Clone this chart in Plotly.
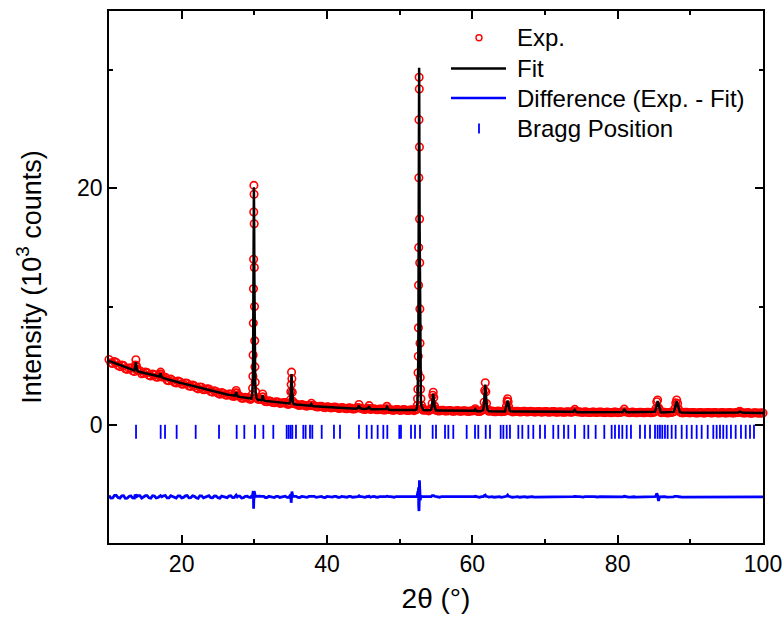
import plotly.graph_objects as go

# ---------------- data ----------------
# Background regions: 2theta (deg), experimental and fitted intensity (10^3 counts)
BG_2THETA = [10.0, 10.5, 11.0, 11.5, 12.0, 12.5, 13.0, 13.5, 14.0, 14.5, 15.0, 15.5, 16.0, 16.5,
             17.5, 18.0, 18.5, 19.0, 19.5, 20.0, 20.5, 21.0, 21.5, 22.0, 22.5, 23.0, 23.5, 24.0,
             24.5, 25.0, 25.5, 26.0, 26.5, 27.0, 28.0, 28.5, 29.0, 29.5, 30.5, 31.5, 32.0, 32.5,
             33.0, 33.5, 34.0, 34.5, 35.5, 36.0, 36.5, 37.0, 37.5, 38.5, 39.0, 39.5, 40.0, 40.5,
             41.0, 41.5, 42.0, 42.5, 43.0, 43.5, 44.0, 45.0, 45.5, 46.0, 46.5, 47.0, 47.5, 48.0,
             48.5, 49.0, 49.5, 50.0, 50.5, 51.0, 51.5, 52.0, 53.5, 54.0, 55.0, 55.5, 56.0, 56.5,
             57.0, 57.5, 58.0, 58.5, 59.0, 59.5, 60.0, 61.0, 62.5, 63.0, 63.5, 64.0, 64.5, 65.5,
             66.0, 66.5, 67.0, 67.5, 68.0, 68.5, 69.0, 69.5, 70.0, 70.5, 71.0, 71.5, 72.0, 72.5,
             73.0, 73.5, 74.5, 75.0, 75.5, 76.0, 76.5, 77.0, 77.5, 78.0, 78.5, 79.0, 79.5, 80.0,
             80.5, 81.5, 82.0, 82.5, 83.0, 83.5, 84.0, 84.5, 85.0, 86.0, 86.5, 87.0, 87.5, 89.0,
             89.5, 90.0, 90.5, 91.0, 91.5, 92.0, 92.5, 93.0, 93.5, 94.0, 94.5, 95.0, 95.5, 96.0,
             96.5, 97.5, 98.0, 98.5, 99.0, 99.5, 100.0]
BG_FIT = [5.40, 5.28, 5.15, 5.02, 4.90, 4.80, 4.70, 4.60, 4.50, 4.42, 4.35, 4.27, 4.20, 4.12,
          3.95, 3.85, 3.77, 3.68, 3.60, 3.52, 3.44, 3.36, 3.28, 3.20, 3.12, 3.05, 2.96, 2.88,
          2.80, 2.73, 2.66, 2.60, 2.53, 2.47, 2.36, 2.30, 2.25, 2.20, 2.10, 2.02, 1.98, 1.94,
          1.90, 1.86, 1.83, 1.79, 1.73, 1.70, 1.67, 1.64, 1.61, 1.56, 1.53, 1.51, 1.49, 1.47,
          1.45, 1.43, 1.42, 1.40, 1.39, 1.37, 1.36, 1.34, 1.33, 1.32, 1.31, 1.30, 1.29, 1.28,
          1.27, 1.26, 1.26, 1.25, 1.25, 1.24, 1.24, 1.23, 1.22, 1.21, 1.20, 1.20, 1.19, 1.19,
          1.18, 1.18, 1.17, 1.17, 1.16, 1.16, 1.15, 1.15, 1.14, 1.14, 1.13, 1.13, 1.13, 1.12,
          1.12, 1.12, 1.11, 1.11, 1.11, 1.10, 1.10, 1.10, 1.10, 1.09, 1.09, 1.09, 1.08, 1.08,
          1.08, 1.08, 1.07, 1.07, 1.07, 1.06, 1.06, 1.06, 1.06, 1.06, 1.05, 1.05, 1.05, 1.05,
          1.05, 1.05, 1.05, 1.04, 1.04, 1.04, 1.04, 1.04, 1.04, 1.04, 1.03, 1.03, 1.03, 1.03,
          1.03, 1.03, 1.02, 1.02, 1.02, 1.02, 1.02, 1.02, 1.02, 1.02, 1.02, 1.02, 1.01, 1.01,
          1.01, 1.01, 1.01, 1.00, 1.00, 1.00, 1.00]
BG_EXP = [5.52, 5.19, 5.27, 4.92, 5.00, 4.69, 4.79, 4.51, 4.61, 4.32, 4.45, 4.19, 4.30, 4.03,
          4.04, 3.76, 3.87, 3.59, 3.69, 3.44, 3.53, 3.28, 3.37, 3.12, 3.20, 2.97, 3.04, 2.81,
          2.88, 2.66, 2.73, 2.53, 2.60, 2.41, 2.42, 2.24, 2.31, 2.15, 2.16, 1.97, 2.03, 1.89,
          1.95, 1.81, 1.88, 1.75, 1.78, 1.66, 1.71, 1.60, 1.65, 1.52, 1.57, 1.47, 1.53, 1.43,
          1.49, 1.40, 1.46, 1.37, 1.43, 1.34, 1.40, 1.31, 1.37, 1.29, 1.35, 1.27, 1.32, 1.25,
          1.30, 1.23, 1.29, 1.22, 1.28, 1.21, 1.27, 1.20, 1.25, 1.18, 1.23, 1.17, 1.22, 1.16,
          1.21, 1.15, 1.20, 1.14, 1.19, 1.13, 1.18, 1.12, 1.17, 1.11, 1.16, 1.10, 1.15, 1.09,
          1.14, 1.09, 1.13, 1.08, 1.13, 1.08, 1.12, 1.07, 1.12, 1.06, 1.11, 1.07, 1.10, 1.06,
          1.10, 1.06, 1.09, 1.05, 1.09, 1.04, 1.08, 1.04, 1.08, 1.04, 1.07, 1.03, 1.07, 1.03,
          1.07, 1.03, 1.07, 1.02, 1.06, 1.02, 1.06, 1.02, 1.06, 1.02, 1.05, 1.01, 1.05, 1.01,
          1.05, 1.01, 1.04, 1.00, 1.04, 1.00, 1.04, 1.00, 1.04, 1.00, 1.04, 1.00, 1.03, 0.99,
          1.03, 0.99, 1.03, 0.98, 1.02, 0.98, 1.00]

# Intermediate background readings (between the grid above)
MID_2THETA = [10.25, 10.75, 11.25, 11.75, 12.25, 12.75, 13.25, 14.25, 14.75, 15.25, 15.75, 16.25,
              16.75, 17.75, 18.25, 18.75, 19.25, 19.75, 20.25, 20.75, 21.25, 21.75, 22.25, 22.75,
              23.25, 23.75, 24.25, 24.75, 25.25, 25.75, 26.25, 26.75, 27.25, 27.75, 28.25, 28.75,
              29.25, 30.75, 31.75, 32.25, 32.75, 33.25, 33.75, 34.25, 34.75, 35.75, 36.25, 36.75,
              37.25, 38.25, 38.75, 39.25, 39.75, 40.25, 40.75, 41.25, 41.75, 42.25, 42.75, 43.25,
              43.75, 44.75, 45.25, 46.25, 46.75, 47.25, 47.75, 48.75, 49.25, 49.75, 50.25, 50.75,
              51.25, 51.75, 52.25, 53.25, 53.75, 54.25, 55.25, 55.75, 56.25, 56.75, 57.25, 57.75,
              58.25, 58.75, 59.25, 59.75, 60.75, 61.25, 62.25, 62.75, 63.25, 63.75, 64.25, 65.25,
              65.75, 66.25, 66.75, 67.25, 67.75, 68.25, 68.75, 69.25, 69.75, 70.25, 70.75, 71.25,
              71.75, 72.25, 72.75, 73.25, 73.75, 74.75, 75.25, 75.75, 76.25, 76.75, 77.25, 77.75,
              78.25, 78.75, 79.25, 79.75, 80.25, 81.25, 81.75, 82.25, 82.75, 83.25, 83.75, 84.25,
              84.75, 86.25, 86.75, 87.25, 88.75, 89.25, 89.75, 90.25, 90.75, 91.25, 91.75, 92.25,
              92.75, 93.25, 93.75, 94.25, 94.75, 95.25, 95.75, 96.25, 97.25, 97.75, 98.25, 98.75,
              99.25, 99.75]
MID_FIT = [5.34, 5.21, 5.08, 4.96, 4.85, 4.75, 4.65, 4.46, 4.38, 4.31, 4.23, 4.16,
           4.08, 3.90, 3.81, 3.72, 3.64, 3.56, 3.48, 3.40, 3.32, 3.24, 3.16, 3.08,
           3.00, 2.92, 2.84, 2.76, 2.70, 2.63, 2.56, 2.50, 2.44, 2.39, 2.33, 2.27,
           2.22, 2.08, 2.00, 1.96, 1.92, 1.88, 1.84, 1.81, 1.77, 1.71, 1.68, 1.65,
           1.62, 1.57, 1.54, 1.52, 1.50, 1.48, 1.46, 1.44, 1.42, 1.41, 1.39, 1.38,
           1.36, 1.35, 1.33, 1.31, 1.30, 1.29, 1.28, 1.26, 1.26, 1.25, 1.25, 1.24,
           1.24, 1.23, 1.25, 1.25, 1.21, 1.25, 1.20, 1.19, 1.19, 1.18, 1.18, 1.17,
           1.17, 1.16, 1.16, 1.15, 1.15, 1.16, 1.16, 1.14, 1.13, 1.13, 1.14, 1.15,
           1.12, 1.12, 1.11, 1.11, 1.11, 1.10, 1.10, 1.10, 1.10, 1.09, 1.09, 1.09,
           1.08, 1.08, 1.08, 1.08, 1.08, 1.07, 1.07, 1.06, 1.06, 1.06, 1.06, 1.06,
           1.05, 1.05, 1.05, 1.05, 1.05, 1.06, 1.05, 1.04, 1.04, 1.04, 1.04, 1.04,
           1.05, 1.04, 1.03, 1.04, 1.04, 1.03, 1.03, 1.02, 1.02, 1.02, 1.02, 1.02,
           1.02, 1.02, 1.02, 1.02, 1.02, 1.01, 1.01, 1.01, 1.01, 1.01, 1.00, 1.00,
           1.00, 1.00]
MID_EXP = [5.24, 5.34, 5.02, 5.05, 4.73, 4.79, 4.57, 4.57, 4.35, 4.41, 4.12, 4.23,
           4.03, 4.02, 3.72, 3.74, 3.54, 3.64, 3.44, 3.51, 3.25, 3.29, 3.04, 3.17,
           2.98, 3.02, 2.76, 2.82, 2.59, 2.66, 2.50, 2.59, 2.40, 2.46, 2.24, 2.32,
           2.19, 2.14, 1.95, 1.99, 1.86, 1.93, 1.82, 1.87, 1.73, 1.76, 1.63, 1.67,
           1.58, 1.62, 1.51, 1.56, 1.45, 1.51, 1.44, 1.48, 1.38, 1.43, 1.36, 1.42,
           1.34, 1.38, 1.30, 1.34, 1.28, 1.32, 1.25, 1.28, 1.23, 1.28, 1.23, 1.27,
           1.21, 1.25, 1.27, 1.23, 1.24, 1.27, 1.18, 1.22, 1.17, 1.20, 1.15, 1.19,
           1.15, 1.19, 1.14, 1.17, 1.13, 1.18, 1.14, 1.16, 1.11, 1.15, 1.12, 1.17,
           1.10, 1.14, 1.09, 1.13, 1.10, 1.12, 1.08, 1.11, 1.08, 1.11, 1.08, 1.11,
           1.06, 1.09, 1.06, 1.10, 1.07, 1.09, 1.05, 1.07, 1.04, 1.08, 1.05, 1.08,
           1.03, 1.06, 1.03, 1.07, 1.04, 1.08, 1.03, 1.05, 1.02, 1.06, 1.03, 1.06,
           1.03, 1.06, 1.01, 1.05, 1.02, 1.05, 1.02, 1.04, 1.00, 1.03, 1.00, 1.04,
           1.01, 1.04, 1.00, 1.03, 1.00, 1.03, 1.00, 1.03, 0.99, 1.02, 0.98, 1.02,
           0.99, 1.01]

# Peak regions: 2theta (deg), experimental and fitted intensity (10^3 counts)
PK_2THETA = [13.55, 13.63, 13.70, 13.77, 13.85,
             16.95, 17.03, 17.10, 17.17, 17.25,
             27.35, 27.43, 27.50, 27.57, 27.65,
             29.60, 29.70, 29.76, 29.80, 29.83, 29.86, 29.88, 29.90, 29.92, 29.94, 29.96, 29.98,
             30.00, 30.02, 30.05, 30.08, 30.12, 30.18, 30.30,
             31.00, 31.08, 31.15, 31.22, 31.30,
             34.85, 34.95, 35.02, 35.07, 35.12, 35.17, 35.22, 35.30, 35.40,
             37.70, 37.85, 38.00,
             44.25, 44.40, 44.55,
             45.65, 45.80, 45.95,
             48.10, 48.25, 48.40,
             52.30, 52.40, 52.46, 52.50, 52.53, 52.56, 52.58, 52.60, 52.62, 52.64, 52.66, 52.68,
             52.70, 52.72, 52.74, 52.76, 52.78, 52.80, 52.83, 52.87, 52.92, 53.00, 53.10, 53.20,
             54.35, 54.47, 54.55, 54.62, 54.70, 54.80, 54.95,
             60.25, 60.40, 60.55,
             61.50, 61.62, 61.70, 61.78, 61.86, 61.95, 62.10,
             64.55, 64.68, 64.77, 64.85, 64.93, 65.02, 65.15,
             73.90, 74.10, 74.30,
             80.70, 80.90, 81.10,
             85.10, 85.25, 85.38, 85.50, 85.62, 85.75, 85.90,
             87.70, 87.85, 88.00, 88.12, 88.25, 88.40, 88.55,
             96.60, 96.80, 97.00]
PK_EXP = [4.75, 5.05, 5.50, 5.00, 4.70,
          4.12, 4.30, 4.45, 4.25, 4.05,
          2.50, 2.70, 2.90, 2.68, 2.45,
          2.28, 2.55, 3.10, 4.10, 5.90, 8.60, 11.5, 14.0, 18.0, 20.25, 19.5, 17.0,
          13.3, 10.0, 7.10, 4.90, 3.60, 2.80, 2.30,
          2.15, 2.35, 2.60, 2.35, 2.12,
          1.85, 2.10, 2.80, 3.40, 4.45, 3.90, 2.75, 2.00, 1.80,
          1.65, 1.82, 1.62,
          1.45, 1.72, 1.42,
          1.40, 1.62, 1.38,
          1.35, 1.56, 1.33,
          1.32, 1.62, 2.20, 3.00, 4.40, 5.80, 8.20, 11.8, 15.0, 20.9, 25.8, 29.4,
          28.4, 23.5, 17.4, 13.7, 9.80, 6.90, 4.00, 3.00, 2.20, 1.65, 1.40, 1.30,
          1.35, 1.80, 2.50, 2.75, 2.30, 1.60, 1.30,
          1.20, 1.35, 1.20,
          1.30, 1.90, 2.90, 3.55, 2.80, 1.80, 1.30,
          1.25, 1.55, 2.00, 2.20, 1.95, 1.50, 1.22,
          1.12, 1.30, 1.12,
          1.10, 1.32, 1.10,
          1.12, 1.35, 1.95, 2.10, 1.45, 1.30, 1.10,
          1.10, 1.35, 1.85, 2.10, 1.80, 1.30, 1.10,
          1.05, 1.15, 1.05]
PK_FIT = [4.68, 5.00, 5.30, 4.95, 4.66,
          4.08, 4.25, 4.35, 4.20, 4.04,
          2.46, 2.62, 2.75, 2.60, 2.44,
          2.22, 2.50, 3.00, 3.80, 5.50, 8.10, 11.6, 15.0, 18.3, 20.1, 19.7, 16.5,
          12.9, 9.90, 6.80, 4.80, 3.50, 2.75, 2.26,
          2.10, 2.30, 2.50, 2.30, 2.08,
          1.80, 2.00, 2.60, 3.90, 4.30, 3.45, 2.50, 1.95, 1.78,
          1.62, 1.75, 1.60,
          1.42, 1.62, 1.40,
          1.38, 1.55, 1.36,
          1.33, 1.50, 1.31,
          1.30, 1.55, 2.00, 2.70, 3.90, 5.50, 7.80, 11.0, 15.8, 21.5, 27.0, 30.2,
          28.6, 22.1, 17.1, 13.5, 9.80, 7.00, 4.30, 3.10, 2.15, 1.60, 1.38, 1.28,
          1.32, 1.70, 2.40, 2.60, 2.20, 1.55, 1.28,
          1.18, 1.30, 1.18,
          1.27, 1.80, 2.80, 3.40, 2.75, 1.75, 1.27,
          1.23, 1.50, 1.90, 2.05, 1.88, 1.45, 1.21,
          1.10, 1.25, 1.10,
          1.09, 1.27, 1.09,
          1.10, 1.30, 1.65, 2.00, 1.80, 1.30, 1.09,
          1.09, 1.30, 1.80, 2.00, 1.75, 1.30, 1.08,
          1.04, 1.12, 1.04]

# Bragg reflection positions (deg)
BRAGG_2THETA = [13.72, 17.11, 17.71, 19.31, 21.93, 25.14, 27.57, 28.62, 30.09, 31.24, 32.61,
                34.45, 34.73, 35.00, 35.23, 35.73, 36.74, 37.06, 37.66, 37.98, 39.27,
                40.96, 41.79, 44.40, 45.46, 46.15, 46.97, 47.75, 48.30, 49.95, 50.18, 51.56,
                52.11, 52.80, 54.54, 55.00, 56.24, 56.70, 57.38, 59.22, 60.37, 60.82, 61.84,
                62.43, 63.90, 64.27, 64.73, 65.18, 66.33, 66.88, 67.71, 68.39, 69.31, 70.00,
                71.14, 71.83, 72.61, 73.21, 74.13, 75.41, 75.96, 76.97, 78.16, 79.17, 79.63,
                80.18, 80.64, 81.24, 81.83, 83.07, 83.76, 84.45, 85.14, 85.50, 85.82, 86.14,
                86.51, 86.88, 87.43, 87.98, 88.81, 89.50, 90.19, 90.87, 91.56, 92.39, 93.16,
                93.62, 94.08, 94.53, 95.00, 95.59, 96.24, 96.97, 97.62, 98.21, 98.76]
BRAGG_LEVEL = -0.6      # vertical placement of the Bragg ticks (10^3 counts)
DIFF_OFFSET = -6.1      # vertical offset of the difference curve (10^3 counts)

LEGEND_LABELS = ["Exp.", "Fit", "Difference (Exp. - Fit)", "Bragg Position"]

# ---------------- assemble ----------------
assert len(BG_2THETA) == len(BG_FIT) == len(BG_EXP)
assert len(MID_2THETA) == len(MID_FIT) == len(MID_EXP)
assert len(PK_2THETA) == len(PK_FIT) == len(PK_EXP)

rows = sorted(zip(BG_2THETA + MID_2THETA + PK_2THETA,
                  BG_EXP + MID_EXP + PK_EXP,
                  BG_FIT + MID_FIT + PK_FIT))
tt = [r[0] for r in rows]
exp_i = [r[1] for r in rows]
fit_i = [r[2] for r in rows]
diff_i = [e - f + DIFF_OFFSET for e, f in zip(exp_i, fit_i)]

FONT = "Liberation Sans, Arial, Helvetica, sans-serif"
RED, BLUE = "#FF0000", "#0000FF"

W, H = 783, 630
ML, MR, MT, MB = 109, 20, 11, 87
PW, PH = W - ML - MR, H - MT - MB


def px(x):
    return (x - ML) / PW


def py(y):
    return (H - MB - y) / PH


fig = go.Figure()
fig.add_trace(go.Scatter(
    x=tt, y=exp_i, mode="markers", name=LEGEND_LABELS[0], cliponaxis=False,
    marker=dict(symbol="circle-open", size=7.5, color=RED, line=dict(width=1.6, color=RED))))
fig.add_trace(go.Scatter(
    x=tt, y=fit_i, mode="lines", name=LEGEND_LABELS[1], line=dict(color="black", width=2.5)))
fig.add_trace(go.Scatter(
    x=tt, y=diff_i, mode="lines", name=LEGEND_LABELS[2], line=dict(color=BLUE, width=2.8)))
fig.add_trace(go.Scatter(
    x=BRAGG_2THETA, y=[BRAGG_LEVEL] * len(BRAGG_2THETA), mode="markers", name=LEGEND_LABELS[3],
    marker=dict(symbol="line-ns-open", size=10, color=BLUE, line=dict(width=1.8, color=BLUE))))

axis_common = dict(
    showline=True, linecolor="black", linewidth=1.5, mirror="allticks",
    ticks="inside", ticklen=8, tickwidth=1.5, tickcolor="black",
    showgrid=False, zeroline=False, automargin=False,
    tickfont=dict(family=FONT, size=23, color="black"),
    minor=dict(ticks="inside", ticklen=4, tickwidth=1.5, tickcolor="black", showgrid=False),
)

fig.update_xaxes(
    range=[10, 100], tick0=0, dtick=20, **axis_common,
    title=dict(text="2θ (°)", font=dict(family=FONT, size=28, color="black"), standoff=12),
)
fig.update_xaxes(minor_dtick=10)
fig.update_yaxes(
    range=[-10, 35], tick0=0, dtick=20, **axis_common,
    title=dict(text="Intensity (10<sup>3</sup> counts)", font=dict(family=FONT, size=27, color="black"),
               standoff=28),
)
fig.update_yaxes(minor_dtick=10)

# legend drawn at the reference's positions (symbols + real text)
LEG_TEXT_X = 515
LEG_ROWS = [37.5, 68.5, 98.0, 128.5]
shapes = [
    dict(type="circle", xref="paper", yref="paper",
         x0=px(476), x1=px(482), y0=py(40.7), y1=py(34.7),
         line=dict(color=RED, width=1.4)),
    dict(type="line", xref="paper", yref="paper",
         x0=px(451), x1=px(506), y0=py(LEG_ROWS[1]), y1=py(LEG_ROWS[1]),
         line=dict(color="black", width=2.5)),
    dict(type="line", xref="paper", yref="paper",
         x0=px(451), x1=px(506), y0=py(LEG_ROWS[2]), y1=py(LEG_ROWS[2]),
         line=dict(color=BLUE, width=2.5)),
    dict(type="line", xref="paper", yref="paper",
         x0=px(479), x1=px(479), y0=py(LEG_ROWS[3] - 5), y1=py(LEG_ROWS[3] + 5),
         line=dict(color=BLUE, width=1.8)),
]
annotations = [
    dict(text=lab, xref="paper", yref="paper", x=px(LEG_TEXT_X), y=py(row),
         xanchor="left", yanchor="middle", showarrow=False,
         font=dict(family=FONT, size=24, color="black"))
    for lab, row in zip(LEGEND_LABELS, LEG_ROWS)
]

fig.update_layout(
    width=W, height=H,
    margin=dict(l=ML, r=MR, t=MT, b=MB),
    paper_bgcolor="white", plot_bgcolor="white",
    font=dict(family=FONT, color="black"),
    showlegend=False,
    shapes=shapes,
    annotations=annotations,
)

fig.write_html("out.html")
